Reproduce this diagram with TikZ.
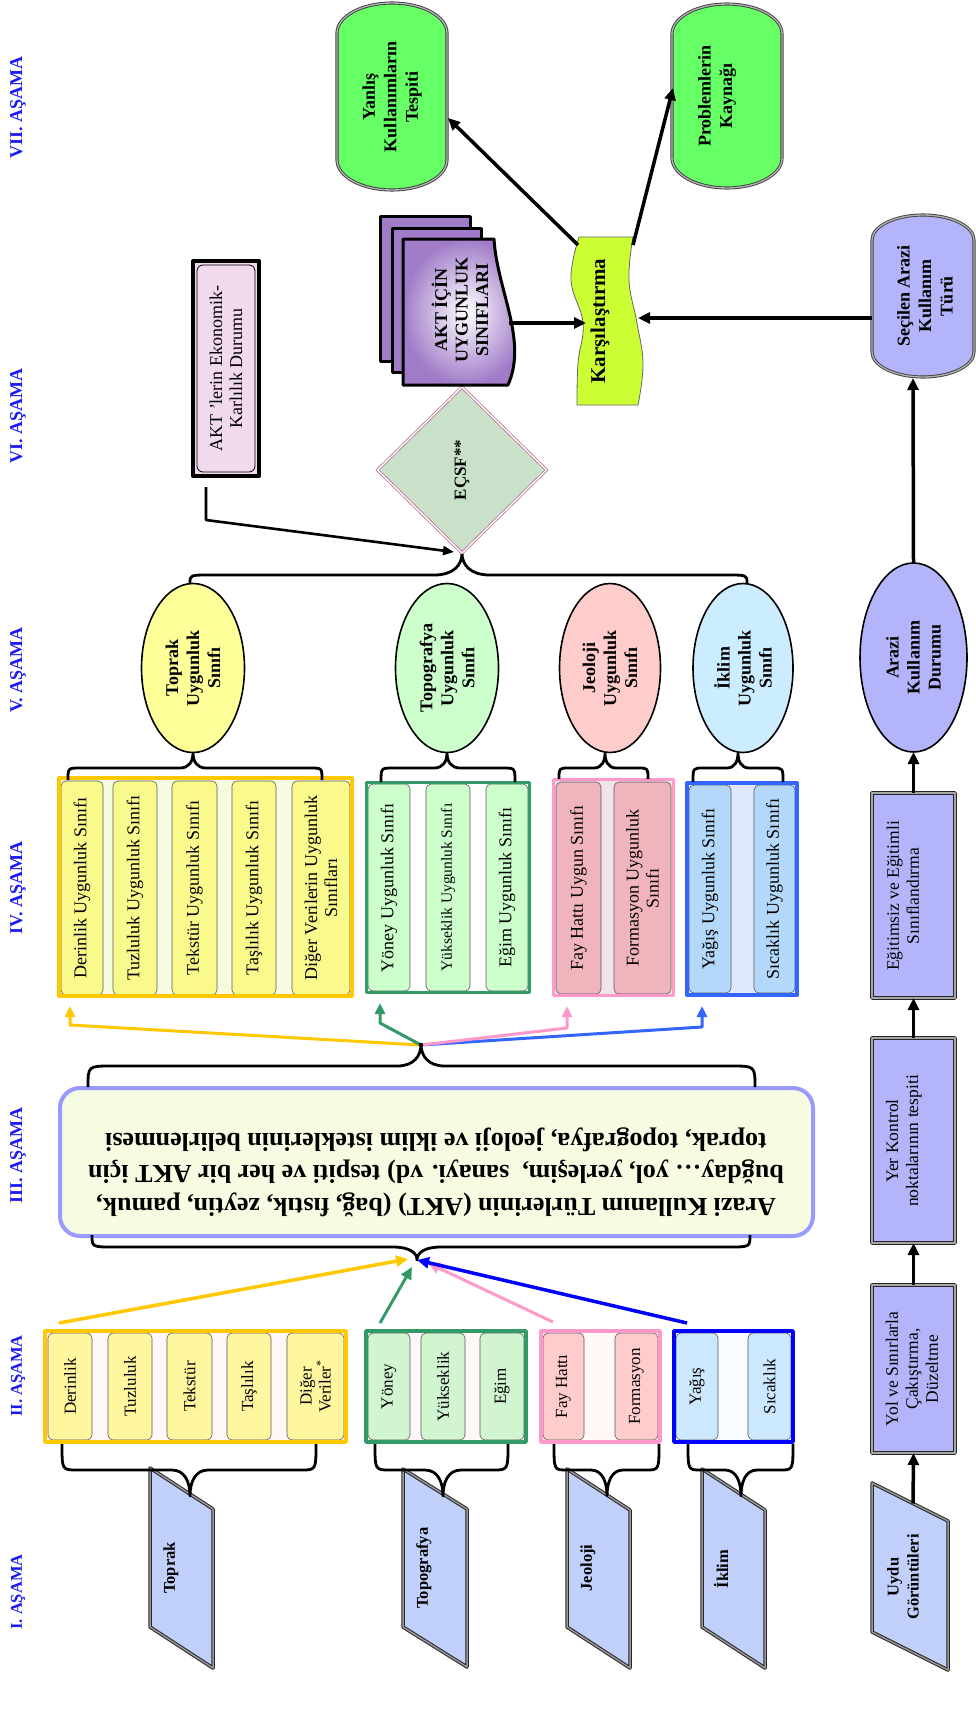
\documentclass[tikz,border=0pt]{standalone}
\usepackage{fontspec}
\setmainfont{Liberation Serif}
\usetikzlibrary{shapes.geometric,arrows.meta,calc}
\newcommand{\fsz}[2]{\fontsize{#1}{#2}\selectfont}
\definecolor{stageblue}{RGB}{25,25,245}
\definecolor{parafill}{RGB}{192,208,250}
\definecolor{lav}{RGB}{180,180,250}
\definecolor{vgreen}{RGB}{102,255,102}
\definecolor{lime}{RGB}{204,255,51}
\definecolor{stackp}{RGB}{160,124,200}
\definecolor{dfill}{RGB}{200,225,200}
\definecolor{dborder}{RGB}{190,110,150}
\definecolor{aktfill}{RGB}{240,218,236}
\definecolor{iiifill}{RGB}{245,252,225}
\definecolor{iiiborder}{RGB}{153,153,255}
\definecolor{gold}{RGB}{255,200,0}
\definecolor{dgreen}{RGB}{51,153,102}
\definecolor{pinkb}{RGB}{255,153,204}
\definecolor{blueb}{RGB}{0,0,255}
\definecolor{blueiv}{RGB}{51,102,255}
\definecolor{yinII}{RGB}{255,246,160}
\definecolor{gapII}{RGB}{255,248,246}
\definecolor{ginII}{RGB}{208,245,208}
\definecolor{pinII}{RGB}{255,204,204}
\definecolor{binII}{RGB}{204,232,255}
\definecolor{bgapII}{RGB}{248,252,255}
\definecolor{yinIV}{RGB}{250,250,140}
\definecolor{ygapIV}{RGB}{246,252,224}
\definecolor{ginIV}{RGB}{204,255,204}
\definecolor{pinIV}{RGB}{240,180,188}
\definecolor{pgapIV}{RGB}{242,226,234}
\definecolor{binIV}{RGB}{180,216,250}
\definecolor{bgapIV}{RGB}{224,232,255}
\definecolor{eY}{RGB}{255,255,153}
\definecolor{eG}{RGB}{204,255,204}
\definecolor{eP}{RGB}{255,204,204}
\definecolor{eB}{RGB}{204,236,255}
% inner box: style, name, x1, x2, y1, y2, text
\newcommand{\ib}[7]{\node[#1,minimum width={#6-#5},minimum height={#4-#3}] (#2) at ({(#3+#4)/2},{(#5+#6)/2}) {#7};}
% brace: x1,x2,xt,y0,ym,yt,rc,rt
\newcommand{\cbrace}[8]{\draw[bracest] (#1,#4) .. controls (#1,#5) .. ({#1+#7},#5) -- ({#3-#8},#5) .. controls ({#3-0.3*#8},#5) and (#3,{#5+0.45*(#6-#5)}) .. (#3,#6) .. controls (#3,{#5+0.45*(#6-#5)}) and ({#3+0.3*#8},#5) .. ({#3+#8},#5) -- ({#2-#7},#5) .. controls (#2,#5) .. (#2,#4);}
% parallelogram: name, x1, x2, top-left y, slant, height
\newcommand{\para}[6]{\draw[parast] (#2,#4) coordinate (#1tl) -- (#3,{#4+#5}) coordinate (#1tr) -- (#3,{#4+#5+#6}) coordinate (#1br) -- (#2,{#4+#6}) coordinate (#1bl) -- cycle;}
% capsule: style, x1, x2, y1, y2, ry
\newcommand{\capsule}[6]{\path[#1] (#2,{#4+#6}) arc[start angle=180, end angle=360, x radius={(#3-#2)/2}, y radius=#6] -- (#3,{#5-#6}) arc[start angle=0, end angle=180, x radius={(#3-#2)/2}, y radius=#6] -- cycle;}
\begin{document}
\begin{tikzpicture}[x=1pt,y=-1pt,line join=round,
 rotnode/.style={rotate=90,align=center,inner sep=0pt,outer sep=0pt},
 stage/.style={rotnode,text=stageblue,font=\bfseries\fsz{18}{20}},
 ptext/.style={rotnode,font=\bfseries\fsz{16.5}{20}},
 parast/.style={fill=parafill,draw=black!85,double=black!40,double distance=1.5pt,line width=1pt},
 lavbox/.style={rotnode,fill=lav,draw=black!85,double=black!35,double distance=1.6pt,line width=1pt},
 ntext/.style={rotnode,font=\fsz{17.5}{20}},
 btext/.style={rotnode,font=\bfseries\fsz{18}{21.5}},
 capst/.style={draw=black!75,double=black!30,double distance=1.3pt,line width=0.9pt},
 iibox/.style={rotnode,draw=black!65,line width=0.6pt,rounded corners=5pt,font=\fsz{17}{19}},
 ivbox/.style={rotnode,draw=black!65,line width=0.6pt,rounded corners=5pt,font=\fsz{18}{20}},
 ell/.style={rotnode,ellipse,draw=black,line width=1.6pt,font=\bfseries\fsz{18}{21}},
 bracest/.style={draw=black,line width=2.8pt},
 arr/.style={line width=3.5pt,-{Triangle[length=12pt,width=11pt]}},
 carr/.style={line width=3pt,-{Triangle[length=11pt,width=10pt]}},
]
\useasboundingbox (0,0) rectangle (976,1724);
\fill[white] (0,0) rectangle (976,1724);

% ---------- stage labels
\node[stage] (s7) at (18,107) {VII. AŞAMA};
\node[stage] (s6) at (18,416) {VI. AŞAMA};
\node[stage] (s5) at (18,670) {V. AŞAMA};
\node[stage] (s4) at (18,888) {IV. AŞAMA};
\node[stage] (s3) at (18,1155) {III. AŞAMA};
\node[stage,font=\bfseries\fsz{16.5}{20}] (s2) at (18,1376) {II. AŞAMA};
\node[stage,font=\bfseries\fsz{16.5}{20}] (s1) at (18,1592) {I. AŞAMA};

% ---------- I. stage: data parallelograms
\para{pT}{150}{213}{1468}{41}{159}
\para{pG}{403}{467}{1469}{40}{158}
\para{pJ}{567}{630}{1469}{41}{158}
\para{pI}{702}{765}{1469}{41}{158}
\para{pU}{872}{948}{1483}{38}{149}
\node[ptext] (toprak) at (171,1568) {Toprak};
\node[ptext] (topografya) at (424,1568) {Topografya};
\node[ptext] (jeoloji) at (588,1568) {Jeoloji};
\node[ptext] (iklim) at (721,1569) {İklim};
\node[ptext,font=\bfseries\fsz{16.5}{20}] (uydu) at (903,1577) {Uydu\\Görüntüleri};
\coordinate (uydutop) at ($(pUtl)!0.54!(pUtr)$);

% ---------- II. stage groups
\fill[gapII] (45,1331) rectangle (346,1442);
\ib{iibox,fill=yinII}{d2}{48}{92}{1333}{1440}{Derinlik}
\ib{iibox,fill=yinII}{t2}{108}{152}{1333}{1440}{Tuzluluk}
\ib{iibox,fill=yinII}{k2}{167}{212}{1333}{1440}{Tekstür}
\ib{iibox,fill=yinII}{s2b}{227}{271}{1333}{1440}{Taşlılık}
\ib{iibox,fill=yinII}{o2}{287}{344}{1333}{1440}{Diğer\\Veriler\textsuperscript{*}}
\draw[gold,line width=3.5pt] (45,1331) rectangle (346,1442);

\fill[gapII] (366,1331) rectangle (526,1442);
\ib{iibox,fill=ginII}{y2}{368}{410}{1333}{1440}{Yöney}
\ib{iibox,fill=ginII}{h2}{421}{465}{1333}{1440}{Yükseklik}
\ib{iibox,fill=ginII}{e2}{480}{524}{1333}{1440}{Eğim}
\draw[dgreen,line width=3.5pt] (366,1331) rectangle (526,1442);

\fill[gapII] (541,1331) rectangle (660,1442);
\ib{iibox,fill=pinII}{f2}{543}{584}{1333}{1440}{Fay Hattı}
\ib{iibox,fill=pinII}{m2}{615}{658}{1333}{1440}{Formasyon}
\draw[pinkb,line width=3.5pt] (541,1331) rectangle (660,1442);

\fill[bgapII] (674,1331) rectangle (793,1442);
\ib{iibox,fill=binII}{g2}{676}{718}{1333}{1440}{Yağış}
\ib{iibox,fill=binII}{c2}{748}{791}{1333}{1440}{Sıcaklık}
\draw[blueb,line width=3.5pt] (674,1331) rectangle (793,1442);

% braces II -> I
\cbrace{62}{316}{190}{1444}{1470}{1496}{15}{18}
\cbrace{375}{508}{443}{1444}{1470}{1496}{15}{18}
\cbrace{554}{659}{607}{1444}{1470}{1496}{13}{16}
\cbrace{688}{793}{741}{1444}{1470}{1496}{13}{16}

% ---------- III. stage box
\node[draw=iiiborder,line width=4pt,fill=iiifill,rounded corners=20pt,minimum width=753,minimum height=148,inner sep=0pt] (iii) at (436.5,1162) {};
\node[rotate=180,align=center,inner sep=0pt,font=\bfseries\fsz{26}{32.5}] (iiitext) at (436,1172) {Arazi Kullanım Türlerinin (AKT) (bağ, fıstık, zeytin, pamuk,\\buğday… yol, yerleşim,\ \ sanayi. vd) tespiti ve her bir AKT için\\toprak, topografya, jeoloji ve iklim isteklerinin belirlenmesi};
\cbrace{92}{750}{417}{1235}{1247}{1260}{22}{24}
\cbrace{88}{755}{421}{1087}{1066}{1044}{24}{24}
\coordinate (iiitip) at (417,1260);
\coordinate (ivtip) at (421,1045);

% arrows II -> III
\coordinate (aY) at (59,1323);
\coordinate (aG) at (380,1323);
\coordinate (aP) at (553,1322);
\coordinate (aB) at (687,1323);
\draw[arr,gold,line width=3.5pt] (aY) -- (408,1259);
\draw[arr,dgreen,line width=3pt] (aG) -- (412,1267);
\draw[arr,pinkb,line width=3pt] (aP) -- (428,1263);
\draw[arr,blueb,line width=3.5pt] (aB) -- (iiitip);

% ---------- IV. stage groups
\fill[ygapIV] (59,778) rectangle (352,996);
\ib{ivbox,fill=yinIV}{d4}{61}{103}{781}{995}{Derinlik Uygunluk Sınıfı}
\ib{ivbox,fill=yinIV}{t4}{113}{157}{781}{995}{Tuzluluk Uygunluk Sınıfı}
\ib{ivbox,fill=yinIV}{k4}{172}{217}{781}{995}{Tekstür Uygunluk Sınıfı}
\ib{ivbox,fill=yinIV}{s4}{232}{276}{781}{995}{Taşlılık Uygunluk Sınıfı}
\ib{ivbox,fill=yinIV}{o4}{292}{350}{781}{995}{Diğer Verilerin Uygunluk\\Sınıfları}
\draw[gold,line width=4pt] (59,778) rectangle (352,996);

\fill[white] (366.5,782.5) rectangle (529.5,992.5);
\ib{ivbox,fill=ginIV}{y4}{368}{410}{784}{991}{Yöney Uygunluk Sınıfı}
\ib{ivbox,fill=ginIV,font=\fsz{15.5}{18}}{h4}{426}{470}{784}{991}{Yükseklik Uygunluk Sınıfı}
\ib{ivbox,fill=ginIV}{e4}{486}{528}{784}{991}{Eğim Uygunluk Sınıfı}
\draw[dgreen,line width=3pt] (366.5,782.5) rectangle (529.5,992.5);

\fill[pgapIV] (553.5,779.5) rectangle (673.5,995.5);
\ib{ivbox,fill=pinIV}{f4}{556}{601}{782}{994}{Fay Hattı Uygun Sınıfı}
\ib{ivbox,fill=pinIV}{m4}{614}{671}{782}{994}{Formasyon Uygunluk\\Sınıfı}
\draw[pinkb,line width=3pt] (553.5,779.5) rectangle (673.5,995.5);

\fill[bgapIV] (687,783) rectangle (797,995);
\ib{ivbox,fill=binIV}{g4}{689}{731}{785}{993}{Yağış Uygunluk Sınıfı}
\ib{ivbox,fill=binIV}{c4}{754}{795}{785}{993}{Sıcaklık Uygunluk Sınıfı}
\draw[blueiv,line width=4pt] (687,783) rectangle (797,995);

% arrows III -> IV
\coordinate (ivY) at (70,1006);
\coordinate (ivG) at (380,1003);
\coordinate (ivP) at (567,1006);
\coordinate (ivB) at (702,1006);
\draw[carr,gold] (ivtip) -- (70,1025) -- (ivY);
\draw[carr,dgreen] (ivtip) -- (380,1023) -- (ivG);
\draw[carr,blueiv] (ivtip) -- (702,1027) -- (ivB);
\draw[carr,pinkb] (ivtip) -- (567,1028) -- (ivP);
\fill[black] (ivtip) circle (2.2);

% braces IV -> V
\cbrace{68}{322}{193}{780}{768}{753}{12}{13}
\cbrace{381}{515}{447}{782}{768}{753}{12}{13}
\cbrace{559}{648}{605}{779}{768}{753}{10}{11}
\cbrace{693}{783}{738}{782}{768}{753}{10}{11}

% ---------- V. stage ellipses
\node[ell,fill=eY,minimum width=169,minimum height=103] (elT) at (193,668) {Toprak\\Uygunluk\\Sınıfı};
\node[ell,fill=eG,minimum width=169,minimum height=103] (elG) at (447,668) {Topografya\\Uygunluk\\Sınıfı};
\node[ell,fill=eP,minimum width=169,minimum height=101] (elJ) at (610,668) {Jeoloji\\Uygunluk\\Sınıfı};
\node[ell,fill=eB,minimum width=169,minimum height=100] (elI) at (743,668) {İklim\\Uygunluk\\Sınıfı};
\cbrace{190}{747}{462}{583}{575}{553}{20}{28}

% ---------- VI. stage
\node[rotnode,diamond,minimum width=166,minimum height=169,fill=dfill,draw=dborder,double=white,double distance=1.4pt,line width=0.8pt,font=\bfseries\fsz{17}{20}] (ecsf) at (462,470) {EÇSF**};
\node[rotnode,draw=black,line width=4pt,fill=aktfill,minimum width=215,minimum height=66,font=\fsz{18}{20}] (akt) at (226,368.5) {AKT ’lerin Ekonomik-\\Karlılık Durumu};
\draw[line width=0.8pt,rounded corners=6pt] (197,265) rectangle (255,472);
\coordinate (aktout) at (206,487);
\coordinate (ecsfin) at (454,552);
\draw[line width=2.6pt,-{Triangle[length=11pt,width=9pt]}] (aktout) -- (206,520) -- (ecsfin);

% stacked documents
\draw[line width=3pt,fill=stackp] (380.5,216) rectangle (470,361);
\draw[line width=3pt,fill=stackp] (392,228) rectangle (481,372.5);
\draw[line width=3pt,inner color=white,outer color=stackp] (403,239) -- (494,239) .. controls (497,290) and (528,340) .. (508,385) -- (403,385) -- cycle;
\node[rotnode,font=\bfseries\fsz{18}{20.5}] (stack) at (460,310) {AKT İÇİN\\UYGUNLUK\\SINIFLARI};
\coordinate (stackout) at (509,323);

% Karşılaştırma tape
\path[fill=lime,draw=black!60,line width=0.8pt] (579,237) -- (633,237) -- plot[smooth,tension=0.7] coordinates {(633,237) (629,280) (637,323) (643,364) (638,405)} -- (577,405) -- plot[smooth,tension=0.7] coordinates {(577,405) (578,363) (583,323) (571,280) (579,237)} -- cycle;
\node[rotnode,font=\bfseries\fsz{21}{24}] (kars) at (600,321) {Karşılaştırma};
\coordinate (karsL) at (586,323);
\coordinate (karsR) at (638,318);
\coordinate (karsTL) at (578,245);
\coordinate (karsTR) at (633,245);

% Seçilen Arazi Kullanım Türü
\capsule{capst,fill=lav}{872}{974}{215}{377}{25}
\node[btext] (secilen) at (925,296) {Seçilen Arazi\\Kullanım\\Türü};
\coordinate (secB) at (913,378);
\coordinate (secL) at (872,318);

% ---------- VII. stage
\capsule{capst,fill=vgreen}{337}{447}{3}{190}{30}
\node[btext] (yanlis) at (392,97) {Yanlış\\Kullanımların\\Tespiti};
\capsule{capst,fill=vgreen}{672}{782}{4}{188}{30}
\node[btext] (probl) at (717,96) {Problemlerin\\Kaynağı};
\coordinate (yanR) at (448,118);
\coordinate (proL) at (673,88);

% ---------- bottom row
\node[lavbox,minimum width=168,minimum height=83] (yol) at (913.5,1369) {};
\node[ntext] (yoltext) at (912,1369) {Yol ve Sınırlarla\\Çakıştırma,\\Düzeltme};
\node[lavbox,minimum width=205,minimum height=83] (yer) at (913.5,1140.5) {};
\node[ntext] (yertext) at (904,1141) {Yer Kontrol\\noktalarının tespiti};
\node[lavbox,minimum width=205,minimum height=83] (egit) at (913.5,895.5) {};
\node[ntext] (egittext) at (903,896) {Eğitimsiz ve Eğitimli\\Sınıflandırma};
\node[ell,fill=lav,minimum width=189,minimum height=107] (arazi) at (913.5,657.5) {Arazi\\Kullanım\\Durumu};

% ---------- connectors
\draw[arr] (uydutop) -- (yol.west);
\draw[arr] (yol.east) -- (yer.west);
\draw[arr] (yer.east) -- (egit.west);
\draw[arr] (egit.east) -- (arazi.west);
\draw[arr] (arazi.east) -- (secB);
\draw[arr] (secL) -- (karsR);
\draw[arr] (stackout) -- (karsL);
\draw[arr] (karsTL) -- (yanR);
\draw[arr] (karsTR) -- (proL);
\end{tikzpicture}
\end{document}
